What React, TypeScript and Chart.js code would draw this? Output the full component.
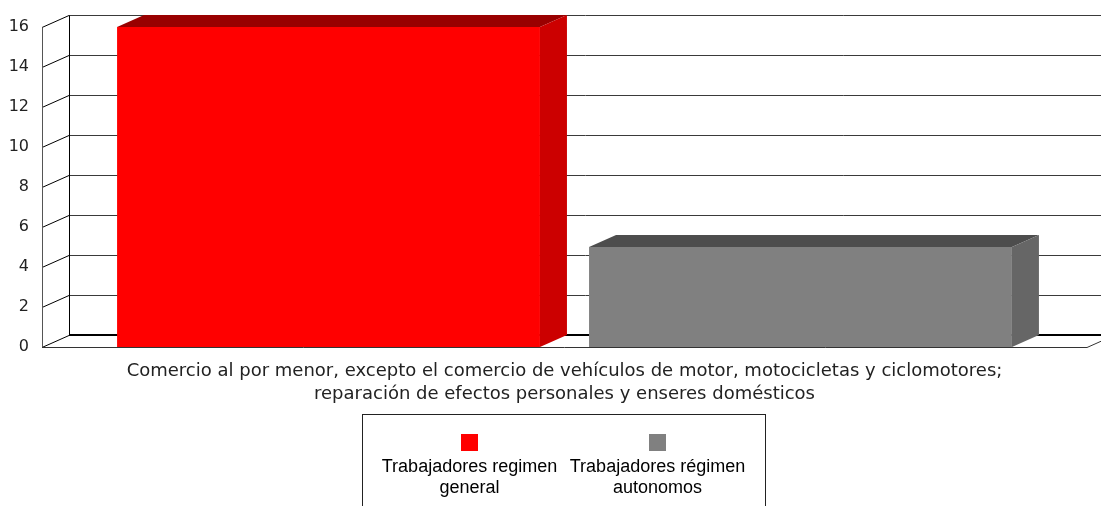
import React, { useEffect, useRef } from "react";
import { Chart, registerables } from "chart.js";

Chart.register(...registerables);

// Category label (two lines under the floor)
const categories: string[][] = [
  [
    "Comercio al por menor, excepto el comercio de vehículos de motor, motocicletas y ciclomotores;",
    "reparación de efectos personales y enseres domésticos",
  ],
];

// Series
const seriesGeneralLines = ["Trabajadores regimen", "general"];
const seriesAutonomosLines = ["Trabajadores régimen", "autonomos"];
const generalValues = [16];
const autonomosValues = [5];

// Value axis
const yMin = 0;
const yMax = 16;
const yStep = 2;

// Face colours of each 3D column: front, top, side
const frontColors = ["#FF0000", "#808080"];
const topColors = ["#990000", "#4D4D4D"];
const sideColors = ["#CC0000", "#666666"];

const DEPTH_X = 27;
const DEPTH_Y = 12;
const AXIS_FONT = "'DejaVu Sans', sans-serif";

const frame3d = {
  id: "frame3d",
  beforeDatasetsDraw(chart: any) {
    const { ctx, chartArea: a, scales } = chart;
    const y = scales.y;
    ctx.save();
    ctx.lineWidth = 1;
    // back wall gridlines and left wall diagonals
    y.ticks.forEach((t: any) => {
      const yy = Math.round(y.getPixelForValue(t.value)) + 0.5;
      if (t.value !== yMin) {
        ctx.strokeStyle = "#3a3a3a";
        ctx.beginPath();
        ctx.moveTo(a.left + DEPTH_X, yy - DEPTH_Y);
        ctx.lineTo(a.right + DEPTH_X, yy - DEPTH_Y);
        ctx.stroke();
      }
      ctx.strokeStyle = "#000";
      ctx.beginPath();
      ctx.moveTo(a.left, yy);
      ctx.lineTo(a.left + DEPTH_X, yy - DEPTH_Y);
      ctx.stroke();
    });
    const bottom = Math.round(a.bottom) + 0.5;
    const top = Math.round(a.top) + 0.5;
    // back floor edge
    ctx.strokeStyle = "#000";
    ctx.lineWidth = 2;
    ctx.beginPath();
    ctx.moveTo(a.left + DEPTH_X, bottom - DEPTH_Y - 0.5);
    ctx.lineTo(a.right + DEPTH_X, bottom - DEPTH_Y - 0.5);
    ctx.stroke();
    ctx.lineWidth = 1;
    // back wall vertical
    ctx.beginPath();
    ctx.moveTo(a.left + DEPTH_X + 0.5, top - DEPTH_Y);
    ctx.lineTo(a.left + DEPTH_X + 0.5, bottom - DEPTH_Y);
    ctx.stroke();
    // front vertical of the side wall
    ctx.strokeStyle = "#555";
    ctx.beginPath();
    ctx.moveTo(a.left + 0.5, top);
    ctx.lineTo(a.left + 0.5, bottom);
    ctx.stroke();
    // front floor edge and right floor diagonal
    ctx.strokeStyle = "#333";
    ctx.beginPath();
    ctx.moveTo(a.left, bottom);
    ctx.lineTo(a.right, bottom);
    ctx.lineTo(a.right + DEPTH_X, bottom - DEPTH_Y);
    ctx.stroke();
    ctx.restore();
  },
  afterDatasetsDraw(chart: any) {
    const { ctx } = chart;
    ctx.save();
    chart.data.datasets.forEach((_ds: any, i: number) => {
      const meta = chart.getDatasetMeta(i);
      meta.data.forEach((el: any) => {
        const { x, y, base, width } = el.getProps(["x", "y", "base", "width"], true);
        const x1 = x - width / 2;
        const x2 = x + width / 2;
        // top face
        ctx.fillStyle = topColors[i];
        ctx.beginPath();
        ctx.moveTo(x1, y);
        ctx.lineTo(x1 + DEPTH_X, y - DEPTH_Y);
        ctx.lineTo(x2 + DEPTH_X, y - DEPTH_Y);
        ctx.lineTo(x2, y);
        ctx.closePath();
        ctx.fill();
        // side face
        ctx.fillStyle = sideColors[i];
        ctx.beginPath();
        ctx.moveTo(x2, y);
        ctx.lineTo(x2 + DEPTH_X, y - DEPTH_Y);
        ctx.lineTo(x2 + DEPTH_X, base - DEPTH_Y);
        ctx.lineTo(x2, base);
        ctx.closePath();
        ctx.fill();
      });
    });
    ctx.restore();
  },
};

const legendBox = {
  id: "legendBox",
  afterDraw(chart: any) {
    const { ctx } = chart;
    const lines = [seriesGeneralLines, seriesAutonomosLines];
    const centers = [469.5, 657.5];
    ctx.save();
    ctx.strokeStyle = "#222";
    ctx.lineWidth = 1;
    ctx.strokeRect(362.5, 414.5, 403, 200);
    ctx.font = "18px 'Liberation Sans', Arial, sans-serif";
    ctx.fillStyle = "#000";
    ctx.textAlign = "center";
    ctx.textBaseline = "middle";
    lines.forEach((ls, i) => {
      const cx = centers[i];
      ctx.fillStyle = frontColors[i];
      ctx.fillRect(cx - 8.5, 434, 17, 17);
      ctx.fillStyle = "#000";
      ls.forEach((t, j) => ctx.fillText(t, cx, 467 + j * 21));
    });
    ctx.restore();
  },
};

export default function App() {
  const ref = useRef<HTMLCanvasElement | null>(null);
  useEffect(() => {
    if (!ref.current) return;
    const chart = new Chart(ref.current, {
      type: "bar",
      data: {
        labels: categories,
        datasets: [
          {
            label: seriesGeneralLines.join(" "),
            data: generalValues,
            backgroundColor: frontColors[0],
            borderWidth: 0,
          },
          {
            label: seriesAutonomosLines.join(" "),
            data: autonomosValues,
            backgroundColor: frontColors[1],
            borderWidth: 0,
          },
        ],
      },
      options: {
        responsive: false,
        animation: false,
        events: [],
        categoryPercentage: 0.9033,
        barPercentage: 0.896,
        layout: { padding: { top: 27, right: 14, left: 0, bottom: 0 } },
        plugins: {
          legend: { display: false },
          tooltip: { enabled: false },
          title: { display: false },
        },
        scales: {
          x: {
            grid: { display: false, drawTicks: false },
            border: { display: false },
            ticks: {
              color: "#222",
              font: { family: AXIS_FONT, size: 18, lineHeight: 1.28 },
              padding: 13,
              maxRotation: 0,
              autoSkip: false,
            },
            afterFit(scale: any) {
              scale.height = 159;
            },
          },
          y: {
            min: yMin,
            max: yMax,
            grid: { display: false, drawTicks: false },
            border: { display: false },
            ticks: {
              stepSize: yStep,
              color: "#222",
              font: { family: AXIS_FONT, size: 16 },
              padding: 13,
            },
            afterFit(scale: any) {
              scale.width = 42;
            },
          },
        },
      },
      plugins: [frame3d, legendBox],
    } as any);
    return () => chart.destroy();
  }, []);
  return (
    <div style={{ position: "absolute", left: 0, top: 0, width: 1101, height: 506, background: "#fff" }}>
      <canvas ref={ref} width={1101} height={506} />
    </div>
  );
}
